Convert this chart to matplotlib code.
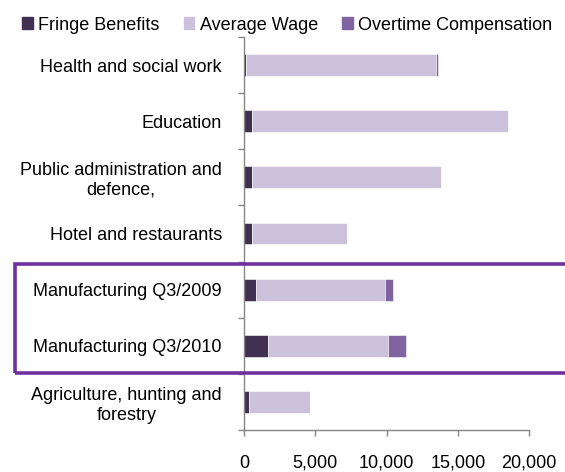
import numpy as np
import matplotlib
matplotlib.use('Agg')
import matplotlib.pyplot as plt
from matplotlib.patches import Patch, Rectangle

plt.rcParams['font.family'] = ['Liberation Sans', 'DejaVu Sans']

# Compensation components by sector
sectors = ['Health and social work', 'Education', 'Public administration and\ndefence,',
           'Hotel and restaurants', 'Manufacturing Q3/2009', 'Manufacturing Q3/2010',
           'Agriculture, hunting and\nforestry']
fringe = [150, 580, 580, 580, 840, 1710, 350]
wage = [13320, 17920, 13240, 6620, 9055, 8370, 4280]
overtime = [170, 0, 0, 0, 585, 1270, 0]

c_fringe = '#403152'
c_wage = '#ccc1da'
c_over = '#8064a2'
axis_grey = '#868686'

fig = plt.figure(figsize=(5.65, 4.72), dpi=100)
ax = fig.add_axes([244 / 565, 1 - 430 / 472, 285 / 565, 393 / 472])

y = np.arange(len(sectors))
fringe = np.array(fringe)
wage = np.array(wage)
overtime = np.array(overtime)

h = 0.39
ax.barh(y, fringe, height=h, color=c_fringe, edgecolor='white', linewidth=0.4)
ax.barh(y, wage, left=fringe, height=h, color=c_wage, edgecolor='white', linewidth=0.4)
ax.barh(y, overtime, left=fringe + wage, height=h, color=c_over, edgecolor='white', linewidth=0.4)

ax.set_xlim(0, 20000)
ax.set_ylim(len(sectors) - 0.5, -0.5)

ax.set_xticks([0, 5000, 10000, 15000, 20000])
ax.set_xticklabels(['0', '5,000', '10,000', '15,000', '20,000'], fontsize=13)
ax.tick_params(axis='x', direction='out', length=4, width=1, color=axis_grey, pad=14)

ax.set_yticks(y)
ax.set_yticklabels(sectors, fontsize=13, multialignment='center')
ax.set_yticks(np.arange(len(sectors) + 1) - 0.5, minor=True)
ax.tick_params(axis='y', which='major', length=0, pad=16)
ax.tick_params(axis='y', which='minor', direction='out', length=4, width=1, color=axis_grey)

for side in ['top', 'right']:
    ax.spines[side].set_visible(False)
for side in ['left', 'bottom']:
    ax.spines[side].set_color(axis_grey)
    ax.spines[side].set_linewidth(1)

# Highlight box around the manufacturing rows
fig.add_artist(Rectangle((15 / 565, 1 - 373 / 472), 560 / 565, 109 / 472,
                         transform=fig.transFigure, fill=False,
                         edgecolor='#7030a0', linewidth=2.6, clip_on=False))

handles = [Patch(color=c_fringe, label='Fringe Benefits'),
           Patch(color=c_wage, label='Average Wage'),
           Patch(color=c_over, label='Overtime Compensation')]
fig.legend(handles=handles, loc='center left', bbox_to_anchor=(22 / 565, 1 - 25 / 472),
           ncol=3, frameon=False, fontsize=13, handlelength=0.6, handleheight=0.6,
           handletextpad=0.28, columnspacing=1.35, borderpad=0, borderaxespad=0)

fig.savefig('out.png', dpi=100)
